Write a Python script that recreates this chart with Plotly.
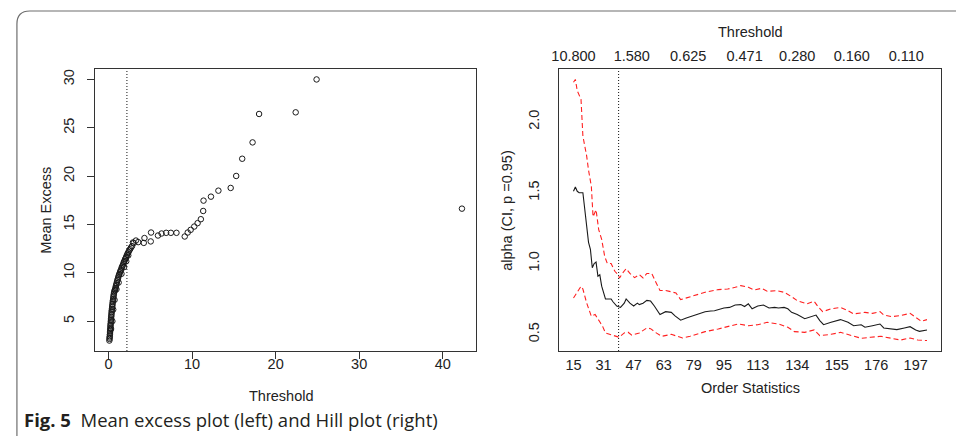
import plotly.graph_objects as go

# ---------------- Mean excess plot data (left) ----------------
me_threshold = [0.10, 0.12, 0.13, 0.15, 0.16, 0.18, 0.19, 0.20, 0.22, 0.23,
                0.24, 0.26, 0.28, 0.29, 0.31, 0.32, 0.34, 0.36, 0.37, 0.39,
                0.41, 0.44, 0.45, 0.48, 0.50, 0.52, 0.55, 0.57, 0.61, 0.63,
                0.67, 0.70, 0.75, 0.79, 0.84, 0.87, 0.93, 0.97, 1.03, 1.07,
                1.13, 1.18, 1.25, 1.30, 1.37, 1.43, 1.51, 1.56, 1.64, 1.70,
                1.78, 1.84, 1.92, 1.98, 2.07, 2.13, 2.22, 2.29, 2.39, 2.47,
                2.58, 2.68, 2.81, 0.30, 0.46, 0.56, 0.72, 0.95, 1.21, 1.55,
                1.86, 2.12, 2.36, 3.00, 3.28,
                2.92, 3.55, 4.22, 4.30, 5.05, 5.09, 5.92, 6.35, 6.90, 7.46,
                8.13, 9.12, 9.48, 9.83, 10.26, 10.66, 11.05, 11.33, 11.37, 12.26,
                13.15, 14.62, 15.28, 16.00, 17.24, 18.02, 22.40, 24.90, 42.30]
me_mean_excess = [3.00, 3.17, 3.31, 3.44, 3.62, 3.79, 3.96, 4.12, 4.28, 4.46,
                  4.61, 4.78, 4.97, 5.12, 5.28, 5.46, 5.62, 5.79, 5.96, 6.12,
                  6.28, 6.46, 6.61, 6.78, 6.96, 7.12, 7.28, 7.46, 7.62, 7.79,
                  7.96, 8.08, 8.21, 8.29, 8.44, 8.62, 8.77, 8.93, 9.11, 9.26,
                  9.43, 9.61, 9.77, 9.89, 10.06, 10.21, 10.33, 10.52, 10.66, 10.78,
                  10.96, 11.12, 11.24, 11.41, 11.56, 11.69, 11.86, 12.02, 12.14, 12.31,
                  12.44, 12.61, 12.76, 4.20, 5.00, 6.20, 7.20, 8.30, 9.00, 9.90,
                  10.60, 11.20, 11.80, 13.07, 13.34,
                  13.14, 13.18, 13.10, 13.60, 13.25, 14.17, 13.86, 14.07, 14.14, 14.14,
                  14.14, 13.76, 14.17, 14.45, 14.79, 15.14, 15.55, 16.40, 17.47, 17.88,
                  18.50, 18.78, 20.02, 21.80, 23.49, 26.43, 26.60, 30.00, 16.64]
me_vline = 2.2
me_xticks = [0, 10, 20, 30, 40]
me_yticks = [5, 10, 15, 20, 25, 30]

# ---------------- Hill plot data (right) ----------------
hill_k = [15, 16, 17, 18, 20, 21, 22, 23, 24, 25, 26, 27, 28, 29, 30, 31, 32, 33, 35, 36,
          38, 40, 42, 43, 45, 47, 49, 50, 52, 54, 56, 58, 61, 64, 67, 69, 72, 75, 78, 81,
          85, 88, 90, 95, 98, 101, 104, 106, 108, 110, 113, 116, 119, 122, 124, 127, 129, 131, 134, 138,
          141, 144, 146, 148, 152, 157, 161, 164, 168, 170, 174, 178, 180, 184, 187, 191, 194, 197, 199, 203]
hill_alpha = [1.51, 1.54, 1.51, 1.50, 1.50, 1.38, 1.24, 1.15, 1.10, 0.97, 1.00, 1.01, 0.91, 0.92, 0.84, 0.79, 0.75, 0.75, 0.75, 0.73,
              0.70, 0.69, 0.72, 0.75, 0.72, 0.70, 0.72, 0.71, 0.72, 0.74, 0.735, 0.70, 0.64, 0.66, 0.655, 0.63, 0.60, 0.615, 0.63, 0.645,
              0.66, 0.665, 0.667, 0.686, 0.69, 0.707, 0.71, 0.696, 0.715, 0.68, 0.70, 0.707, 0.686, 0.69, 0.686, 0.69, 0.68, 0.655, 0.64, 0.61,
              0.625, 0.636, 0.597, 0.568, 0.585, 0.604, 0.585, 0.561, 0.568, 0.55, 0.561, 0.573, 0.545, 0.538, 0.533, 0.545, 0.554, 0.531, 0.521, 0.531]

hill_k_upper = [15, 16, 17, 19, 20, 22, 23, 24.5, 25.4, 27, 28.4, 30, 31.6, 33, 35, 37, 38.6, 39.5, 41, 43,
                45, 47.5, 50, 52, 54, 56.6, 59, 61, 64, 67, 69.5, 72, 75, 78, 83, 85, 92, 97, 101, 104,
                108, 111, 115, 118, 123, 127, 131, 134, 139, 143, 145, 147.5, 152, 157, 161, 164, 170, 174, 178, 180,
                184, 189, 194, 197, 200, 203]
hill_upper = [2.28, 2.30, 2.22, 2.16, 1.90, 1.76, 1.66, 1.545, 1.33, 1.38, 1.24, 1.17, 1.05, 1.00, 1.00, 0.945, 0.922, 0.898, 0.93, 0.964,
              0.93, 0.90, 0.922, 0.898, 0.93, 0.93, 0.863, 0.81, 0.81, 0.80, 0.792, 0.745, 0.757, 0.766, 0.79, 0.797, 0.816, 0.82, 0.832, 0.844,
              0.832, 0.813, 0.825, 0.804, 0.808, 0.797, 0.766, 0.738, 0.715, 0.733, 0.696, 0.66, 0.68, 0.69, 0.667, 0.644, 0.655, 0.648, 0.66, 0.637,
              0.625, 0.632, 0.648, 0.62, 0.592, 0.604]

hill_k_lower = [15, 17, 19, 20, 22, 24.5, 26.5, 28.8, 30.5, 32, 35, 37.6, 39.3, 42, 44, 46, 50, 54, 56, 59,
                62, 67, 70, 73, 77, 81, 85, 92, 97, 102.5, 108, 113, 118, 124, 129, 132.5, 138, 143, 146, 152,
                157, 163, 168, 173, 178.5, 184, 189, 194, 198, 203]
hill_lower = [0.757, 0.80, 0.839, 0.82, 0.722, 0.627, 0.64, 0.592, 0.556, 0.51, 0.498, 0.486, 0.479, 0.51, 0.515, 0.494, 0.51, 0.545, 0.54, 0.51,
              0.486, 0.50, 0.486, 0.474, 0.486, 0.505, 0.519, 0.538, 0.554, 0.573, 0.561, 0.568, 0.585, 0.573, 0.55, 0.519, 0.514, 0.531, 0.491, 0.50,
              0.514, 0.491, 0.472, 0.479, 0.486, 0.472, 0.46, 0.474, 0.46, 0.456]
hill_vline = 39
hill_xticks = [15, 31, 47, 63, 79, 95, 113, 134, 155, 176, 197]
hill_yticks = [0.5, 1.0, 1.5, 2.0]
hill_ytick_labels = ["0.5", "1.0", "1.5", "2.0"]
top_tick_k = [15, 46, 76, 106, 134, 163, 192]
top_tick_labels = ["10.800", "1.580", "0.625", "0.471", "0.280", "0.160", "0.110"]


def padded(lo, hi, f=0.04):
    d = (hi - lo) * f
    return [lo - d, hi + d]


W, H = 956, 436
FONT = "Liberation Sans, Arial, sans-serif"
TXT = "#222222"
AX = "#333333"

me_xr = padded(min(me_threshold), max(me_threshold))
me_yr = padded(min(me_mean_excess), max(me_mean_excess))
hk_all = hill_k + hill_k_upper + hill_k_lower
hv_all = hill_alpha + hill_upper + hill_lower
h_xr = padded(min(hk_all), max(hk_all))
h_yr = padded(min(hv_all), max(hv_all))

L_x0, L_x1 = 88, 472
R_x0, R_x1 = 556, 941
P_y0, P_y1 = 69, 351  # top, bottom in px


def px_x(p):
    return p / W


def px_y(p):
    return 1 - p / H


fig = go.Figure()

fig.add_trace(go.Scatter(
    x=me_threshold, y=me_mean_excess, mode="markers",
    marker=dict(symbol="circle-open", size=5.5, color="#1a1a1a", line=dict(width=1)),
    xaxis="x", yaxis="y", showlegend=False, hoverinfo="skip"))

fig.add_trace(go.Scatter(
    x=hill_k_upper, y=hill_upper, mode="lines",
    line=dict(color="#ff2020", width=1.1, dash="5px,3px"),
    xaxis="x2", yaxis="y2", showlegend=False, hoverinfo="skip"))
fig.add_trace(go.Scatter(
    x=hill_k_lower, y=hill_lower, mode="lines",
    line=dict(color="#ff2020", width=1.1, dash="5px,3px"),
    xaxis="x2", yaxis="y2", showlegend=False, hoverinfo="skip"))
fig.add_trace(go.Scatter(
    x=hill_k, y=hill_alpha, mode="lines",
    line=dict(color="#1a1a1a", width=1.1),
    xaxis="x2", yaxis="y2", showlegend=False, hoverinfo="skip"))
# invisible trace to carry the top (threshold) axis
fig.add_trace(go.Scatter(
    x=top_tick_k, y=[hill_alpha[0]] * len(top_tick_k), mode="markers",
    marker=dict(opacity=0, size=1), xaxis="x3", yaxis="y2",
    showlegend=False, hoverinfo="skip"))

tickfont = dict(family=FONT, size=14.5, color=TXT)
common = dict(showline=True, mirror=True, linecolor=AX, linewidth=1,
              showgrid=False, zeroline=False, tickfont=tickfont)

fig.update_layout(
    width=W, height=H, autosize=False,
    margin=dict(l=0, r=0, t=0, b=0),
    paper_bgcolor="white", plot_bgcolor="white",
    xaxis=dict(domain=[px_x(L_x0), px_x(L_x1)], anchor="y", range=me_xr,
               tickvals=me_xticks, ticks="outside", ticklen=7, tickcolor=AX,
               ticklabelstandoff=-7, **common),
    yaxis=dict(domain=[px_y(P_y1), px_y(P_y0)], anchor="x", range=me_yr,
               tickvals=me_yticks, ticks="outside", ticklen=7, tickcolor=AX,
               tickangle=-90, ticklabelstandoff=7, **common),
    xaxis2=dict(domain=[px_x(R_x0), px_x(R_x1)], anchor="y2", range=h_xr,
                tickvals=hill_xticks, ticks="", ticklabelstandoff=1, **common),
    yaxis2=dict(domain=[px_y(P_y1), px_y(P_y0)], anchor="x2", range=h_yr,
                tickvals=hill_yticks, ticktext=hill_ytick_labels, ticks="",
                tickangle=-90, ticklabelstandoff=14, **common),
    xaxis3=dict(overlaying="x2", side="top", anchor="y2", range=h_xr,
                tickvals=top_tick_k, ticktext=top_tick_labels, ticks="",
                ticklabelstandoff=4,
                showline=False, showgrid=False, zeroline=False, tickfont=tickfont),
)

# threshold choice lines
fig.add_shape(type="line", xref="x", yref="y domain", x0=me_vline, x1=me_vline, y0=0, y1=1,
              line=dict(color="#111111", width=1, dash="1px,2px"))
fig.add_shape(type="line", xref="x2", yref="y2 domain", x0=hill_vline, x1=hill_vline, y0=0, y1=1,
              line=dict(color="#111111", width=1, dash="1px,2px"))

# figure frame with rounded top-left corner
fx, fy, fr = 9, 11, 13
fig.add_shape(type="path", xref="paper", yref="paper",
              path=(f"M {px_x(fx)} 0 L {px_x(fx)} {px_y(fy + fr)} "
                    f"Q {px_x(fx)} {px_y(fy)} {px_x(fx + fr)} {px_y(fy)} L 1 {px_y(fy)}"),
              line=dict(color="#6e6e6e", width=1.2))

tfont = dict(family=FONT, size=14.5, color=TXT)
ann = [
    dict(text="Threshold", x=px_x(275), y=px_y(396)),
    dict(text="Mean Excess", x=px_x(38), y=px_y((P_y0 + P_y1) / 2), textangle=-90),
    dict(text="Threshold", x=px_x((R_x0 + R_x1) / 2), y=px_y(32)),
    dict(text="Order Statistics", x=px_x((R_x0 + R_x1) / 2), y=px_y(388)),
    dict(text="alpha (CI, p =0.95)", x=px_x(503), y=px_y((P_y0 + P_y1) / 2), textangle=-90),
]
for a in ann:
    fig.add_annotation(xref="paper", yref="paper", showarrow=False, font=tfont,
                       xanchor="center", yanchor="middle", **a)

fig.add_annotation(xref="paper", yref="paper", showarrow=False,
                   x=px_x(14), y=px_y(419), xanchor="left", yanchor="middle", align="left",
                   text="<b>Fig. 5</b>  Mean excess plot (left) and Hill plot (right)",
                   font=dict(family="Open Sans, Noto Sans, sans-serif", size=18.5, color="#231f20"))

fig.write_html("out.html", config={"displayModeBar": False},
               post_script="document.body.style.margin='0';document.body.style.overflow='hidden';")
